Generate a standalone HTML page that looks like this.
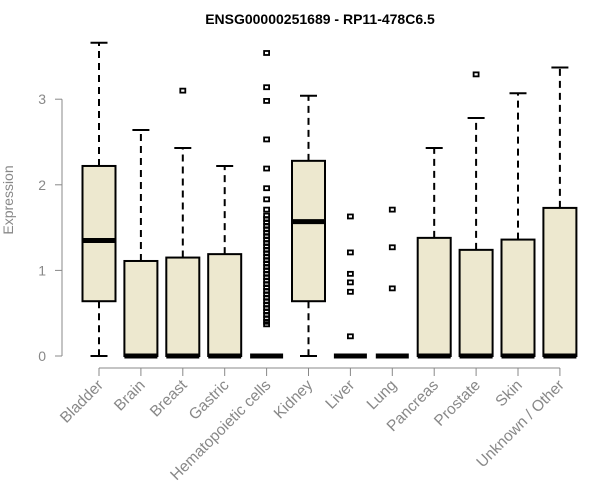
<!DOCTYPE html>
<html><head><meta charset="utf-8"><style>body{margin:0;background:#fff}svg{display:block;font-family:"Liberation Sans",Arial,sans-serif}</style></head>
<body>
<svg id="chart" width="600" height="500">
<text x="320" y="24" text-anchor="middle" font-weight="bold" font-size="14">ENSG00000251689 - RP11-478C6.5</text>
<text transform="translate(13,200) rotate(-90)" text-anchor="middle" font-size="14" fill="#888">Expression</text>
<g id="plot"></g>
</svg>
<script>
const categories=["Bladder","Brain","Breast","Gastric","Hematopoietic cells","Kidney","Liver","Lung","Pancreas","Prostate","Skin","Unknown / Other"];
const whiskLo=[0,0,0,0,0,0,0,0,0,0,0,0];
const q1=[0.64,0,0,0,0,0.64,0,0,0,0,0,0];
const medians=[1.35,0,0,0,0,1.57,0,0,0,0,0,0];
const q3=[2.22,1.11,1.15,1.19,0,2.28,0,0,1.38,1.24,1.36,1.73];
const whiskHi=[3.66,2.64,2.43,2.22,0,3.04,0,0,2.43,2.78,3.07,3.37];
const outliers=[[],[],[3.1],[],[3.54,3.14,2.98,2.53,2.19,1.96,1.83,1.71,1.64,1.6,1.56,1.52,1.48,1.44,1.4,1.36,1.32,1.28,1.24,1.2,1.16,1.12,1.08,1.04,1.0,0.96,0.92,0.88,0.84,0.8,0.76,0.72,0.68,0.64,0.6,0.56,0.52,0.48,0.44,0.4,0.37],[],[1.63,1.21,0.96,0.86,0.75,0.23],[1.71,1.27,0.79],[],[3.29],[],[]];
const yTicks=[0,1,2,3];
const NS="http://www.w3.org/2000/svg";
const g=document.getElementById("plot");
const y=v=>356-v*85.6;
const x=i=>99+i*41.9;
function mk(t,a,p){const e=document.createElementNS(NS,t);for(const k in a)e.setAttribute(k,a[k]);(p||g).appendChild(e);return e;}
let e=mk("line",{x1:62,x2:62,y1:y(3),y2:y(0),stroke:"#888"});


yTicks.forEach(v=>{
 let t=mk("line",{x1:55,x2:62,y1:y(v),y2:y(v),stroke:"#888"});
 
 
 let l=mk("text",{x:46,y:y(v)+5,"text-anchor":"end","font-size":14,fill:"#888"});
 l.textContent=v;
 
 
});
e=mk("line",{x1:x(0),x2:x(11),y1:368,y2:368,stroke:"#888"});


categories.forEach((c,i)=>{
 const cx=x(i),hw=16.5;
 let t=mk("line",{x1:cx,x2:cx,y1:368,y2:376,stroke:"#888"});
 
 
 let l=mk("text",{transform:`translate(${cx+5},${386}) rotate(-45)`,"text-anchor":"end","font-size":15.5,fill:"#888"});
 l.textContent=c;
 
 
 const grp=mk("g",{});
 
 
 if(whiskHi[i]>q3[i]){
  mk("line",{x1:cx,x2:cx,y1:y(q3[i]),y2:y(whiskHi[i]),stroke:"#000","stroke-width":2,"stroke-dasharray":"7,5"},grp);
  mk("line",{x1:cx-8.5,x2:cx+8.5,y1:y(whiskHi[i]),y2:y(whiskHi[i]),stroke:"#000","stroke-width":2},grp);
 }
 if(q1[i]>whiskLo[i]){
  mk("line",{x1:cx,x2:cx,y1:y(q1[i]),y2:y(whiskLo[i]),stroke:"#000","stroke-width":2,"stroke-dasharray":"7,5"},grp);
  mk("line",{x1:cx-8.5,x2:cx+8.5,y1:y(whiskLo[i]),y2:y(whiskLo[i]),stroke:"#000","stroke-width":2},grp);
 }
 mk("rect",{x:cx-hw,y:y(q3[i]),width:2*hw,height:y(q1[i])-y(q3[i]),fill:"#ede8cf",stroke:"#000","stroke-width":2},grp);
 mk("line",{x1:cx-hw,x2:cx+hw,y1:y(medians[i]),y2:y(medians[i]),stroke:"#000","stroke-width":5},grp);
 outliers[i].forEach(v=>{
  let p=mk("rect",{x:cx-2.5,y:y(v)-2,width:5,height:4,fill:"none",stroke:"#000","stroke-width":1.8},grp);
  
  
 });
});
</script>
</body></html>
